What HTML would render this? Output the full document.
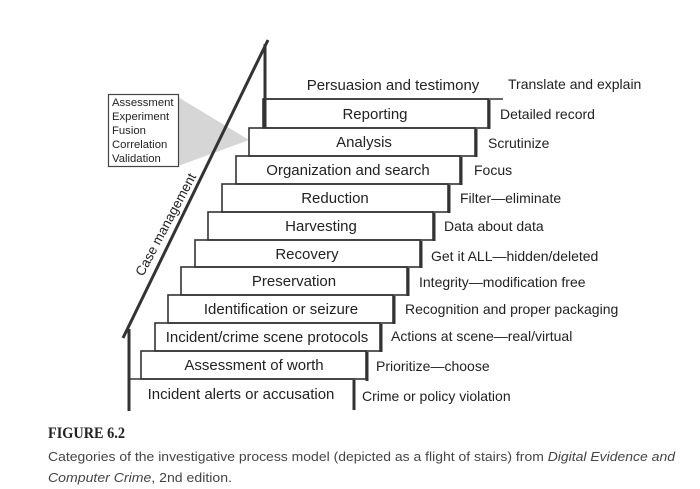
<!DOCTYPE html>
<html><head><meta charset="utf-8"><style>
body{margin:0;background:#fff;width:700px;height:489px;overflow:hidden}
svg{display:block}
</style></head><body>
<svg width="700" height="489" viewBox="0 0 700 489" font-family="Liberation Sans, sans-serif" fill="#222">
<polygon points="178,97 249,140 178,166" fill="#d6d6d6"/>
<rect x="108.5" y="94.5" width="70" height="72" fill="#fff" stroke="#444" stroke-width="1.2"/>
<g font-size="11.3">
<text x="112" y="106">Assessment</text>
<text x="112" y="120">Experiment</text>
<text x="112" y="134">Fusion</text>
<text x="112" y="148">Correlation</text>
<text x="112" y="162">Validation</text>
</g>
<g fill="none" stroke="#333" stroke-width="1.6">
<line x1="129" y1="379" x2="355" y2="379"/>
<rect x="141" y="351" width="225" height="28"/>
<rect x="155" y="323" width="225" height="28"/>
<rect x="168" y="295" width="225" height="28"/>
<rect x="181" y="267" width="226" height="28"/>
<rect x="195" y="240" width="225" height="27"/>
<rect x="208" y="212" width="225" height="28"/>
<rect x="222" y="184" width="226" height="28"/>
<rect x="236" y="156" width="224" height="28"/>
<rect x="249" y="128" width="226" height="28"/>
<rect x="263" y="99" width="225" height="29"/>
<line x1="263" y1="99" x2="503" y2="99"/>
</g>
<g stroke="#333" stroke-width="3" fill="none">
<line x1="354" y1="380" x2="354" y2="410"/>
<line x1="367" y1="352" x2="367" y2="381"/>
<line x1="381" y1="324" x2="381" y2="352"/>
<line x1="394" y1="296" x2="394" y2="324"/>
<line x1="408" y1="268" x2="408" y2="296"/>
<line x1="421" y1="241" x2="421" y2="268"/>
<line x1="434" y1="213" x2="434" y2="241"/>
<line x1="449" y1="185" x2="449" y2="213"/>
<line x1="461" y1="157" x2="461" y2="185"/>
<line x1="476" y1="129" x2="476" y2="157"/>
<line x1="489" y1="100" x2="489" y2="129"/>
<line x1="129" y1="329" x2="129" y2="411"/>
<line x1="123" y1="338" x2="268" y2="40"/>
<line x1="265" y1="44" x2="265" y2="128"/>
</g>
<text x="0" y="0" font-size="13.5" transform="translate(143,277) rotate(-62)">Case management</text>
<g font-size="15" text-anchor="middle">
<text x="393" y="90">Persuasion and testimony</text>
<text x="375" y="119">Reporting</text>
<text x="364" y="147">Analysis</text>
<text x="348" y="175">Organization and search</text>
<text x="335" y="203">Reduction</text>
<text x="321" y="231">Harvesting</text>
<text x="307" y="259">Recovery</text>
<text x="294" y="286">Preservation</text>
<text x="281" y="314">Identification or seizure</text>
<text x="267" y="342">Incident/crime scene protocols</text>
<text x="254" y="370">Assessment of worth</text>
<text x="241" y="399">Incident alerts or accusation</text>
</g>
<g font-size="14">
<text x="508" y="89">Translate and explain</text>
<text x="500" y="119">Detailed record</text>
<text x="488" y="148">Scrutinize</text>
<text x="474" y="175">Focus</text>
<text x="460" y="203">Filter—eliminate</text>
<text x="444" y="231">Data about data</text>
<text x="431" y="261">Get it ALL—hidden/deleted</text>
<text x="419" y="287">Integrity—modification free</text>
<text x="405" y="314">Recognition and proper packaging</text>
<text x="391" y="341">Actions at scene—real/virtual</text>
<text x="376" y="371">Prioritize—choose</text>
<text x="362" y="401">Crime or policy violation</text>
</g>
<text x="48" y="438" font-family="Liberation Serif, serif" font-weight="bold" font-size="16" textLength="77" lengthAdjust="spacingAndGlyphs">FIGURE 6.2</text>
<g font-size="13" fill="#444">
<text x="48" y="461" textLength="627" lengthAdjust="spacingAndGlyphs">Categories of the investigative process model (depicted as a flight of stairs) from <tspan font-style="italic">Digital Evidence and</tspan></text>
<text x="48" y="482" textLength="184" lengthAdjust="spacingAndGlyphs"><tspan font-style="italic">Computer Crime</tspan>, 2nd edition.</text>
</g>
</svg>
</body></html>
